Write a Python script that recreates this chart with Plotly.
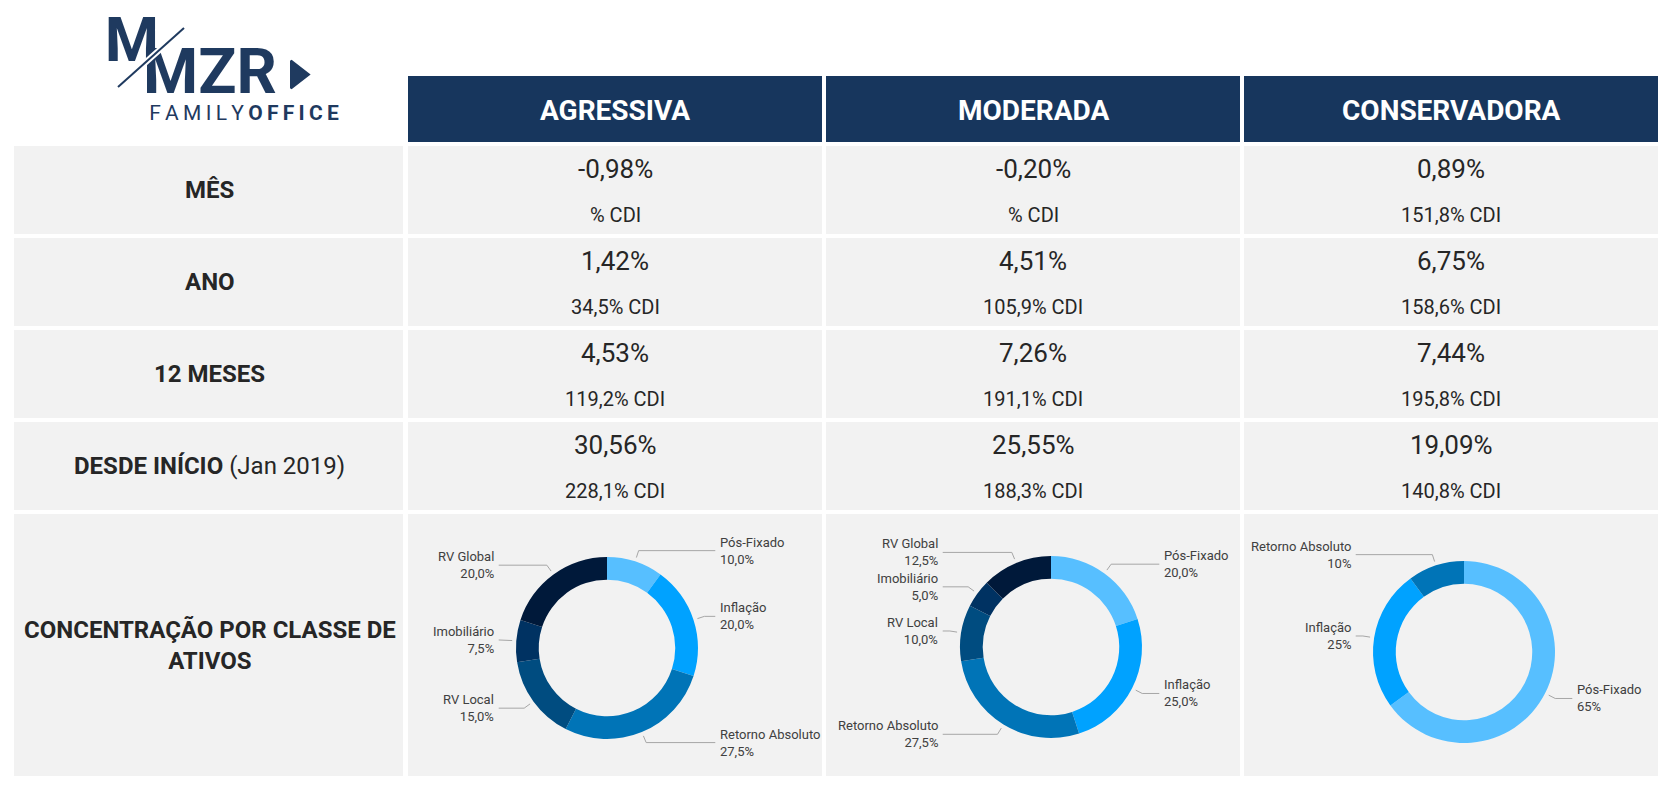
import math
import plotly.graph_objects as go

# page body has an 8px margin; figure is sized so that its content lands on the reference pixels
OFF = 8
FIG_W, FIG_H = 1670 - 2 * OFF, 790 - 2 * OFF

# ---------------- data ----------------
profiles = ["AGRESSIVA", "MODERADA", "CONSERVADORA"]
row_labels = ["<b>MÊS</b>", "<b>ANO</b>", "<b>12 MESES</b>", "<b>DESDE INÍCIO</b> (Jan 2019)"]
concentration_label = "<b>CONCENTRAÇÃO POR CLASSE DE<br>ATIVOS</b>"

ret_mes = [-0.98, -0.20, 0.89]
ret_ano = [1.42, 4.51, 6.75]
ret_12m = [4.53, 7.26, 7.44]
ret_inicio = [30.56, 25.55, 19.09]

cdi_mes = [None, None, 151.8]
cdi_ano = [34.5, 105.9, 158.6]
cdi_12m = [119.2, 191.1, 195.8]
cdi_inicio = [228.1, 188.3, 140.8]

classes_agr = ["Pós-Fixado", "Inflação", "Retorno Absoluto", "RV Local", "Imobiliário", "RV Global"]
alloc_agr = [10.0, 20.0, 27.5, 15.0, 7.5, 20.0]
classes_mod = ["Pós-Fixado", "Inflação", "Retorno Absoluto", "RV Local", "Imobiliário", "RV Global"]
alloc_mod = [20.0, 25.0, 27.5, 10.0, 5.0, 12.5]
classes_con = ["Pós-Fixado", "Inflação", "Retorno Absoluto"]
alloc_con = [65, 25, 10]

# ---------------- style / layout ----------------
class_colors = {
    "Pós-Fixado": "#57BFFF",
    "Inflação": "#00A2FF",
    "Retorno Absoluto": "#0074B7",
    "RV Local": "#004C80",
    "Imobiliário": "#003262",
    "RV Global": "#00193A",
}
NAVY = "#17365D"
LOGO = "#1F3A5F"
CELL = "#F2F2F2"
TXT = "#262626"
FONT = "Roboto"

label_col = (14, 403)
cols = [(408, 822), (826, 1240), (1244, 1658)]
header_y = (76, 142)
rows_y = [(146, 234), (238, 326), (330, 418), (422, 510), (514, 776)]
donut_centers = [(607, 648), (1051, 647), (1464, 652)]
R = 91
HOLE = 0.75


def fmt(v, d):
    return f"{v:.{d}f}".replace(".", ",")


fig = go.Figure()
shapes = []
annotations = []

# header cells
for (x0, x1), name in zip(cols, profiles):
    shapes.append(dict(type="rect", xref="x", yref="y", x0=x0, x1=x1, y0=header_y[0], y1=header_y[1],
                       fillcolor=NAVY, line=dict(width=0), layer="below"))
    annotations.append(dict(x=(x0 + x1) / 2, y=(header_y[0] + header_y[1]) / 2 + 1, xref="x", yref="y",
                            text=f"<b>{name}</b>", showarrow=False,
                            font=dict(family=FONT, size=28, color="white")))

# body cells
for (y0, y1) in rows_y:
    for (x0, x1) in [label_col] + cols:
        shapes.append(dict(type="rect", xref="x", yref="y", x0=x0, x1=x1, y0=y0, y1=y1,
                           fillcolor=CELL, line=dict(width=0), layer="below"))

# row labels
for (y0, y1), lab in zip(rows_y, row_labels + [concentration_label]):
    annotations.append(dict(x=(label_col[0] + label_col[1]) / 2 + 1, y=(y0 + y1) / 2, xref="x", yref="y",
                            text=lab, showarrow=False, align="center",
                            font=dict(family=FONT, size=24, color=TXT)))

# values
ret_rows = [ret_mes, ret_ano, ret_12m, ret_inicio]
cdi_rows = [cdi_mes, cdi_ano, cdi_12m, cdi_inicio]
for (y0, y1), rets, cdis in zip(rows_y[:4], ret_rows, cdi_rows):
    for (x0, x1), r, c in zip(cols, rets, cdis):
        xc = (x0 + x1) / 2
        annotations.append(dict(x=xc, y=y0 + 23, xref="x", yref="y", text=fmt(r, 2) + "%",
                                showarrow=False, font=dict(family=FONT, size=26, color=TXT)))
        ctext = "% CDI" if c is None else fmt(c, 1) + "% CDI"
        annotations.append(dict(x=xc, y=y0 + 69, xref="x", yref="y", text=ctext,
                                showarrow=False, font=dict(family=FONT, size=20, color=TXT)))

# donuts
donuts = [(classes_agr, alloc_agr, 1), (classes_mod, alloc_mod, 1), (classes_con, alloc_con, 0)]
for (cx, cy), (labels, vals, dec) in zip(donut_centers, donuts):
    fig.add_trace(go.Pie(
        labels=labels, values=vals, hole=HOLE, sort=False, direction="clockwise", rotation=0,
        marker=dict(colors=[class_colors[l] for l in labels], line=dict(width=0)),
        textinfo="none", hoverinfo="label+percent", showlegend=False,
        domain=dict(x=[(cx - R - OFF) / FIG_W, (cx + R - OFF) / FIG_W],
                    y=[1 - (cy + R - OFF) / FIG_H, 1 - (cy - R - OFF) / FIG_H]),
    ))
    total = sum(vals)
    cum = 0.0
    for lab, v in zip(labels, vals):
        mid = (cum + v / 2) / total * 2 * math.pi
        cum += v
        sx, sy = math.sin(mid), -math.cos(mid)
        ax, ay = cx + 1.045 * R * sx, cy + 1.045 * R * sy
        ex, ey = cx + 1.125 * R * sx, cy + 1.125 * R * sy
        right = sx >= 0
        lx = cx + 1.19 * R if right else cx - 1.19 * R
        fig.add_trace(go.Scatter(x=[ax, ex, lx], y=[ay, ey, ey], mode="lines",
                                 line=dict(color="#A6A6A6", width=1), hoverinfo="skip", showlegend=False))
        annotations.append(dict(x=lx + (3 if right else -3), y=ey, xref="x", yref="y",
                                text=f"{lab}<br>{fmt(v, dec)}%", showarrow=False,
                                xanchor="left" if right else "right", align="left" if right else "right",
                                font=dict(family=FONT, size=13, color="#404040")))

# logo
fig.add_trace(go.Scatter(x=[132], y=[45], mode="text", text=["<b>M</b>"], cliponaxis=False,
                         textfont=dict(family=FONT, size=62, color=LOGO), hoverinfo="skip", showlegend=False))
fig.add_trace(go.Scatter(x=[210], y=[77.5], mode="text", text=["<b>MZR</b>"], cliponaxis=False,
                         textfont=dict(family=FONT, size=63, color=LOGO), hoverinfo="skip", showlegend=False))
fig.add_trace(go.Scatter(x=[297], y=[74.5], mode="markers", cliponaxis=False,
                         marker=dict(symbol="triangle-right", size=24, color=LOGO, line=dict(width=2, color=LOGO)),
                         hoverinfo="skip", showlegend=False))
sp = "\u2009"
fam = sp.join("FAMILY")
off = sp.join("OFFICE")
fig.add_trace(go.Scatter(x=[244], y=[115], mode="text", text=[f"{fam}{sp}<b>{off}</b>"], cliponaxis=False,
                         textfont=dict(family=FONT, size=21, color=LOGO), hoverinfo="skip", showlegend=False))
shapes.append(dict(type="line", xref="x", yref="y", x0=184, y0=28, x1=118, y1=87,
                   line=dict(color="white", width=6), layer="above"))
shapes.append(dict(type="line", xref="x", yref="y", x0=184, y0=28, x1=118, y1=87,
                   line=dict(color=LOGO, width=2), layer="above"))

fig.update_layout(
    width=FIG_W, height=FIG_H, margin=dict(l=0, r=0, t=0, b=0),
    paper_bgcolor="white", plot_bgcolor="white",
    xaxis=dict(range=[OFF, OFF + FIG_W], visible=False, fixedrange=True, domain=[0, 1]),
    yaxis=dict(range=[OFF + FIG_H, OFF], visible=False, fixedrange=True, domain=[0, 1]),
    shapes=shapes, annotations=annotations,
)

fig.write_html("out.html")
